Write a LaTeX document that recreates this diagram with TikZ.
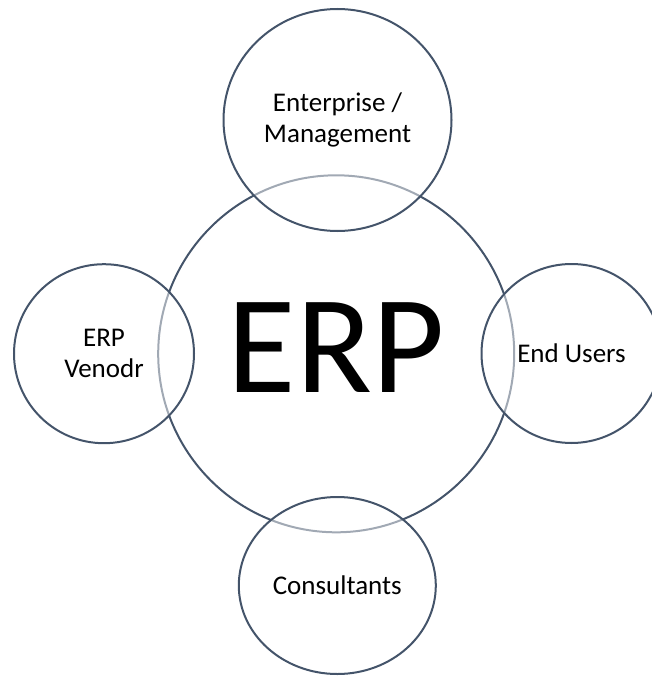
\documentclass[tikz,border=0pt]{standalone}
\usepackage{fontspec}
\setmainfont{Carlito}
\usetikzlibrary{shapes.geometric}
\definecolor{ringcol}{HTML}{44546A}
\tikzset{
  ring/.style={ellipse, draw=ringcol, line width=2pt, inner sep=0pt, text=black,
    font=\fontsize{27}{31}\selectfont},
  satellite/.style={ring, align=center, fill=white, fill opacity=0.5, text opacity=1},
}
\begin{document}
\begin{tikzpicture}[x=1pt,y=-1pt]
\useasboundingbox (0,0) rectangle (651,677);
\node[ring, minimum width=356pt, minimum height=357pt,
      font=\fontsize{140}{140}\selectfont, text depth=12pt] (erp) at (336.2,353.8) {ERP};
\node[satellite, minimum width=228pt, minimum height=222pt] (ent) at (337.5,120) {Enterprise /\\Management};
\node[satellite, minimum width=180pt, minimum height=179pt] (ven) at (104,353.7) {ERP\\Venodr};
\node[satellite, minimum width=180pt, minimum height=179pt] (usr) at (571.5,353.5) {End Users};
\node[satellite, minimum width=197pt, minimum height=177pt] (con) at (337.3,585.5) {Consultants};
\end{tikzpicture}
\end{document}
